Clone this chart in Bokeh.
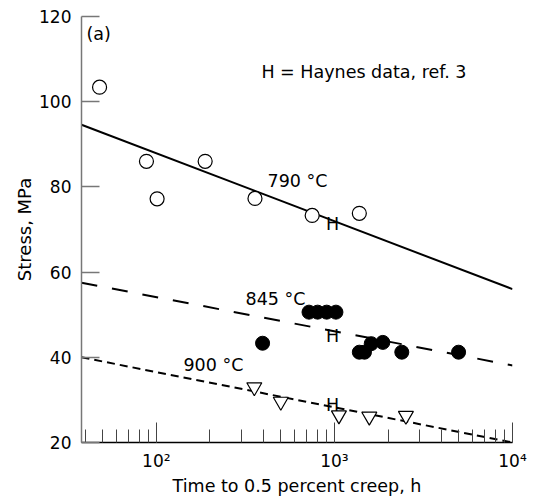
from bokeh.plotting import figure
from bokeh.embed import file_html
from bokeh.resources import INLINE
from bokeh.models import FixedTicker, LogTicker
from bokeh.core.properties import value

FONT = "DejaVu Sans"

# 790 °C data (open circles)
t790 = [48, 88, 101, 188, 358, 750, 1380]
s790 = [103.4, 86.0, 77.2, 86.0, 77.3, 73.3, 73.8]
# 845 °C data (filled circles)
t845 = [395, 720, 805, 905, 1020, 1380, 1475, 1610, 1870, 2390, 4980]
s845 = [43.3, 50.6, 50.6, 50.6, 50.6, 41.2, 41.2, 43.2, 43.5, 41.2, 41.2]
# 900 °C data (open inverted triangles)
t900 = [355, 500, 1060, 1570, 2520]
s900 = [33.0, 29.6, 26.4, 26.1, 26.3]

# fitted lines
line_t = [38, 10000]
line790 = [94.6, 56.0]
line845 = [57.5, 38.1]
line900 = [40.0, 20.0]

# annotations
temp_labels = ["790 °C", "845 °C", "900 °C"]
temp_t = [421, 317, 142]
temp_s = [81.5, 53.7, 38.1]
h_t = [978, 978, 978]
h_s = [71.2, 44.9, 28.7]
note_text = ["H = Haynes data, ref. 3"]
note_t = [389]
note_s = [106.9]
panel_text = ["(a)"]
panel_t = [40.5]
panel_s = [116.0]

y_ticks = [20, 40, 60, 80, 100, 120]
x_tick_labels = {100: "10²", 1000: "10³", 10000: "10⁴"}

p = figure(x_axis_type="log", x_range=(38, 10000), y_range=(20, 120),
           frame_width=431, frame_height=426,
           min_border_left=81, min_border_top=16, min_border_right=17, min_border_bottom=51,
           output_backend="svg", toolbar_location=None)
p.outline_line_color = None
p.grid.grid_line_color = None
p.background_fill_color = "white"
p.border_fill_color = "white"

# lines
p.line(line_t, line790, line_color="black", line_width=2)
p.line(line_t, line845, line_color="black", line_width=2, line_dash="16 15")
p.line(line_t, line900, line_color="black", line_width=2, line_dash="8 5")

# points
p.scatter(t790, s790, marker="circle", size=14, fill_color="white",
          line_color="black", line_width=1.2)
p.scatter(t845, s845, marker="circle", size=14, fill_color="black",
          line_color="black")
p.scatter(t900, s900, marker="inverted_triangle", size=15, fill_color="white",
          line_color="black", line_width=1.2)

# text
TS = "17.5px"
p.text(temp_t, temp_s, text=temp_labels, text_font=value(FONT),
       text_font_size=TS, text_align="left", text_baseline="middle",
       text_color="black")
p.text(h_t, h_s, text=["H", "H", "H"], text_font=value(FONT),
       text_font_size=TS, text_align="center", text_baseline="middle",
       text_color="black")
p.text(note_t, note_s, text=note_text, text_font=value(FONT),
       text_font_size=TS, text_align="left", text_baseline="middle",
       text_color="black")
p.text(panel_t, panel_s, text=panel_text, text_font=value(FONT),
       text_font_size=TS, text_align="left", text_baseline="middle",
       text_color="black")

# x axis
xa = p.xaxis[0]
xa.ticker = LogTicker(num_minor_ticks=10)
xa.major_label_overrides = x_tick_labels
xa.axis_label = "Time to 0.5 percent creep, h"
xa.axis_label_text_font = FONT
xa.axis_label_text_font_size = TS
xa.axis_label_text_font_style = "normal"
xa.axis_label_text_color = "black"
xa.axis_label_standoff = 2
xa.major_label_text_font = FONT
xa.major_label_text_font_size = "17px"
xa.major_label_text_color = "black"
xa.major_label_standoff = 8
xa.axis_line_color = "black"
xa.axis_line_width = 1.5
xa.major_tick_in = 20
xa.major_tick_out = 0
xa.minor_tick_in = 13
xa.minor_tick_out = 0
xa.major_tick_line_color = "#444444"
xa.minor_tick_line_color = "#444444"

# y axis
ya = p.yaxis[0]
ya.ticker = FixedTicker(ticks=y_ticks)
ya.axis_label = "Stress, MPa"
ya.axis_label_text_font = FONT
ya.axis_label_text_font_size = "18px"
ya.axis_label_text_font_style = "normal"
ya.axis_label_text_color = "black"
ya.axis_label_standoff = 1
ya.major_label_text_font = FONT
ya.major_label_text_font_size = "17px"
ya.major_label_text_color = "black"
ya.major_label_standoff = 10
ya.axis_line_color = "#777777"
ya.axis_line_width = 1.5
ya.major_tick_in = 18
ya.major_tick_out = 0
ya.minor_tick_line_color = None
ya.major_tick_line_color = "#777777"
ya.major_tick_line_width = 1.5

open("out.html", "w").write(file_html(p, INLINE))
